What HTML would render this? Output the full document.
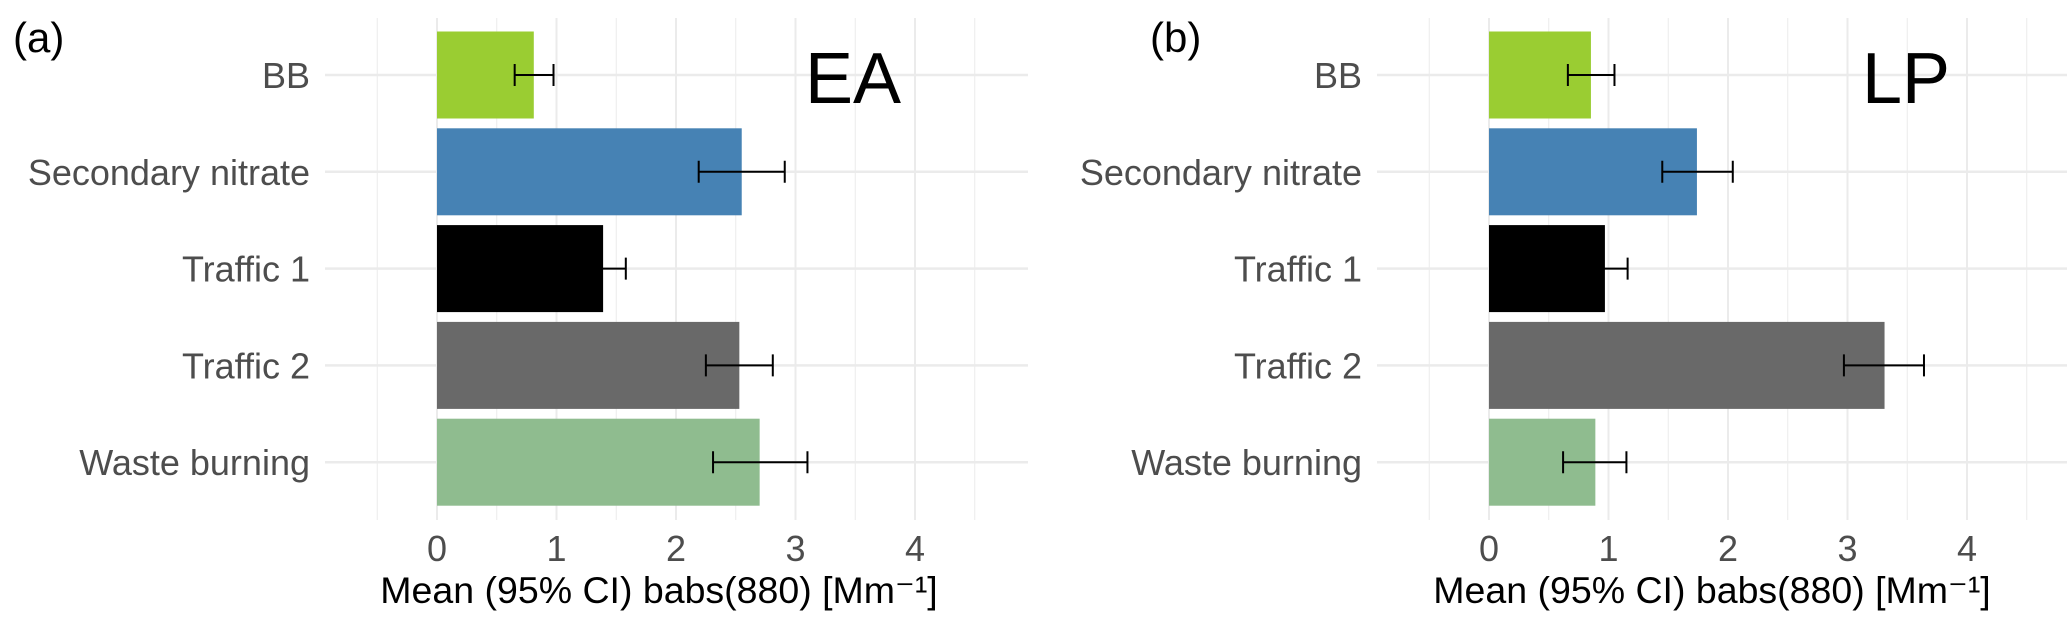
<!DOCTYPE html>
<html><head><meta charset="utf-8"><style>
body{margin:0;background:#fff}
svg text{font-family:"Liberation Sans",Arial,sans-serif}
</style></head><body>
<svg id="c" width="2067" height="618" xmlns="http://www.w3.org/2000/svg"></svg>
<script>
const categories=["BB","Secondary nitrate","Traffic 1","Traffic 2","Waste burning"];
const colors=["#9acd32","#4682b4","#000000","#696969","#8fbc8f"];
const eaMean=[0.81,2.55,1.39,2.53,2.70];
const eaLow=[0.65,2.19,1.20,2.25,2.31];
const eaHigh=[0.975,2.91,1.58,2.81,3.10];
const lpMean=[0.853,1.74,0.97,3.31,0.89];
const lpLow=[0.66,1.45,0.80,2.97,0.62];
const lpHigh=[1.05,2.04,1.16,3.64,1.15];
const xTicks=[0,1,2,3,4];
const panels=[
 {id:"ea",tag:"(a)",tagX:13,name:"EA",nameX:805,left:325,zero:437,right:1028,mean:eaMean,low:eaLow,high:eaHigh,titleX:659,labelX:310},
 {id:"lp",tag:"(b)",tagX:1150,name:"LP",nameX:1862,left:1377,zero:1489,right:2067,mean:lpMean,low:lpLow,high:lpHigh,titleX:1712,labelX:1362}
];
const svg=document.getElementById('c');
const NS="http://www.w3.org/2000/svg";
function mk(t,a,p){const e=document.createElementNS(NS,t);for(const k in a)e.setAttribute(k,a[k]);(p||svg).appendChild(e);return e;}
const plotTop=18,plotBot=520,unit=119.5,y0=75,step=96.8,bh=87;
panels.forEach(P=>{
 const g=mk('g',{});
 
 
 const xs=v=>P.zero+v*unit;
 const ys=i=>y0+i*step;
 for(let v=-0.5;v<=4.6;v+=0.5){
  const major=Math.abs(v-Math.round(v))<1e-6;
  const l=mk('line',{x1:xs(v),x2:xs(v),y1:plotTop,y2:plotBot,stroke:'#ebebeb','stroke-width':major?2:1},g);
  
  
 }
 categories.forEach((c,i)=>{
  const l=mk('line',{x1:P.left,x2:P.right,y1:ys(i),y2:ys(i),stroke:'#ebebeb','stroke-width':2.5},g);
  
  
 });
 categories.forEach((c,i)=>{
  const r=mk('rect',{x:xs(0),y:ys(i)-bh/2,width:xs(P.mean[i])-xs(0),height:bh,fill:colors[i]},g);
  
  
  const e=mk('path',{d:`M${xs(P.low[i])},${ys(i)-11}V${ys(i)+11}M${xs(P.low[i])},${ys(i)}H${xs(P.high[i])}M${xs(P.high[i])},${ys(i)-11}V${ys(i)+11}`,stroke:'#000','stroke-width':2,fill:'none'},g);
  
  
  const t=mk('text',{x:P.labelX,y:ys(i)+13,'text-anchor':'end','font-size':36,fill:'#4d4d4d'},g);
  t.textContent=c;
  
  
 });
 xTicks.forEach(v=>{
  const t=mk('text',{x:xs(v),y:561,'text-anchor':'middle','font-size':36,fill:'#4d4d4d'},g);
  t.textContent=v;
  
  
 });
 const ti=mk('text',{x:P.titleX,y:603,'text-anchor':'middle','font-size':37.5,fill:'#000'},g);
 ti.textContent='Mean (95% CI) babs(880) [Mm\u207B\u00B9]';
 
 
 const tg=mk('text',{x:P.tagX,y:52,'font-size':42,fill:'#000'},g);
 tg.textContent=P.tag;
 
 
 const nm=mk('text',{x:P.nameX,y:103,'font-size':72,fill:'#000'},g);
 nm.textContent=P.name;
 
 
});
</script>
</body></html>
